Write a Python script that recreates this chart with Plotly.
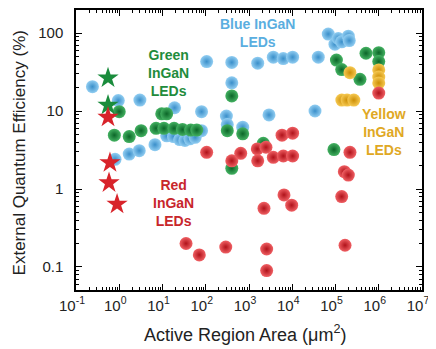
import plotly.graph_objects as go

# ---- data ----
blue_x = [0.24, 0.80, 0.95, 1.7, 2.9, 3.0, 6.7, 12.5, 18, 19, 25, 33, 43, 57, 80, 80,
          105, 300, 315, 400, 400, 715, 1590, 2900, 3650, 6200, 10200, 33600, 40000,
          68000, 97000, 116000, 139000, 198000, 208000]
blue_y = [20.5, 2.4, 13.6, 2.8, 3.1, 13.8, 3.7, 4.8, 4.7, 11, 4.3, 4.2, 4.4, 4.6, 5.6, 9.8,
          43, 8.6, 6.7, 42, 23, 6.2, 41, 8.9, 49, 47, 49, 10, 49,
          97, 72, 85, 77, 91, 80]

green_x = [0.77, 1.0, 1.7, 3.2, 7.1, 9.6, 10.8, 12.5, 18.5, 29, 45, 62, 315, 400, 400,
           715, 2140, 92000, 105000, 139000, 368000, 507000, 1.0e6, 1.0e6]
green_y = [4.9, 9.8, 4.7, 5.6, 6.0, 9.2, 6.0, 9.2, 6.0, 5.8, 5.7, 5.7, 5.6, 15.6, 1.84,
           5.1, 3.85, 3.2, 45, 34, 25.5, 55, 56, 43]

red_x = [35, 71, 105, 290, 400, 643, 1556, 1590, 2220, 2470, 2560, 2560, 3650, 5800,
         6210, 6440, 9700, 10200, 10200, 139000, 160000, 166000, 198000, 216000, 1.0e6]
red_y = [0.20, 0.143, 2.95, 0.18, 2.3, 2.87, 3.26, 2.3, 0.565, 3.43, 0.17, 0.09, 2.55, 4.9,
         2.65, 0.84, 0.62, 2.65, 5.2, 0.80, 1.67, 0.19, 1.51, 2.95, 17]

yellow_x = [140000, 185000, 216000, 265000, 1.0e6, 1.0e6, 1.0e6]
yellow_y = [13.8, 13.8, 31, 13.8, 33.6, 27.3, 22.9]

green_star_x = [0.55, 0.55]
green_star_y = [26.5, 11.9]
red_star_x = [0.55, 0.61, 0.58, 0.89]
red_star_y = [8.3, 2.17, 1.2, 0.64]

x_tick_vals = [1e-1, 1e0, 1e1, 1e2, 1e3, 1e4, 1e5, 1e6, 1e7]
x_tick_text = ["10<sup>-1</sup>", "10<sup>0</sup>", "10<sup>1</sup>", "10<sup>2</sup>",
               "10<sup>3</sup>", "10<sup>4</sup>", "10<sup>5</sup>", "10<sup>6</sup>",
               "10<sup>7</sup>"]
y_tick_vals = [0.1, 1, 10, 100]
y_tick_text = ["0.1", "1", "10", "100"]

GREEN = "#1a8c3c"
RED = "#d8232a"

FONT = "Liberation Sans, Arial, sans-serif"

fig = go.Figure()


def balls(x, y, center, rim):
    # shaded sphere: lighter in the centre, deeper towards the rim
    fig.add_trace(go.Scatter(
        x=x, y=y, mode="markers", showlegend=False,
        marker=dict(size=13, color=center, symbol="circle",
                    gradient=dict(type="radial", color=rim),
                    line=dict(width=0)),
    ))


balls(blue_x, blue_y, "#92cef2", "#3a8fca")
balls(green_x, green_y, "#44b262", "#0b6628")
balls(yellow_x, yellow_y, "#f6c952", "#cc8e05")
balls(red_x, red_y, "#f06064", "#b0121a")

fig.add_trace(go.Scatter(x=green_star_x, y=green_star_y, mode="markers", showlegend=False,
                         marker=dict(symbol="star", size=16, color=GREEN, line=dict(width=0))))
fig.add_trace(go.Scatter(x=red_star_x, y=red_star_y, mode="markers", showlegend=False,
                         marker=dict(symbol="star", size=16, color=RED, line=dict(width=0))))

minor_vals = [m * 10 ** k for k in range(-2, 8) for m in range(2, 10)]

axis_common = dict(
    showline=True, linecolor="black", linewidth=1.5, mirror="allticks",
    ticks="inside", ticklen=6, tickwidth=1, tickcolor="black",
    showgrid=False, zeroline=False, automargin=False,
    tickfont=dict(family=FONT, size=15, color="#222"),
    minor=dict(ticks="inside", ticklen=3, tickwidth=1, tickcolor="black",
               tickmode="array", tickvals=minor_vals, showgrid=False),
)

fig.update_xaxes(type="log", range=[-1, 7], tickmode="array",
                 tickvals=x_tick_vals, ticktext=x_tick_text,
                 ticklabelstandoff=1, ticklabelshift=-4,
                 **axis_common)
fig.update_yaxes(type="log", range=[-1.295, 2.295], tickmode="array",
                 tickvals=y_tick_vals, ticktext=y_tick_text, ticklabelstandoff=8,
                 **axis_common)

# axis titles
fig.add_annotation(text="Active Region Area (\u03bcm<sup>2</sup>)", x=0.488, y=-0.154,
                   xref="paper", yref="paper", showarrow=False,
                   xanchor="center", yanchor="middle",
                   font=dict(family=FONT, size=18, color="#222"))
fig.add_annotation(text="External Quantum Efficiency (%)", x=-0.163, y=0.49,
                   xref="paper", yref="paper", showarrow=False, textangle=-90,
                   xanchor="center", yanchor="middle",
                   font=dict(family=FONT, size=17, color="#222"))


def label(text, x, y, color):
    fig.add_annotation(text=text, x=x, y=y, xref="paper", yref="paper",
                       showarrow=False, xanchor="center", yanchor="middle",
                       font=dict(family=FONT, size=14, color=color, weight="bold"),
                       align="center")


label("Blue InGaN<br>LEDs", 0.526, 0.918, "#5aaee0")
label("Green<br>InGaN<br>LEDs", 0.266, 0.775, "#1f8c3c")
label("Red<br>InGaN<br>LEDs", 0.283, 0.311, "#c8262b")
label("Yellow<br>InGaN<br>LEDs", 0.89, 0.564, "#e0a824")

# page body adds an 8px margin, so the figure is sized to fit the 436x349 window
fig.update_layout(
    width=428, height=341,
    margin=dict(l=68, r=14, t=2, b=59),
    plot_bgcolor="white", paper_bgcolor="white",
    font=dict(family=FONT),
)

fig.write_html("out.html")
